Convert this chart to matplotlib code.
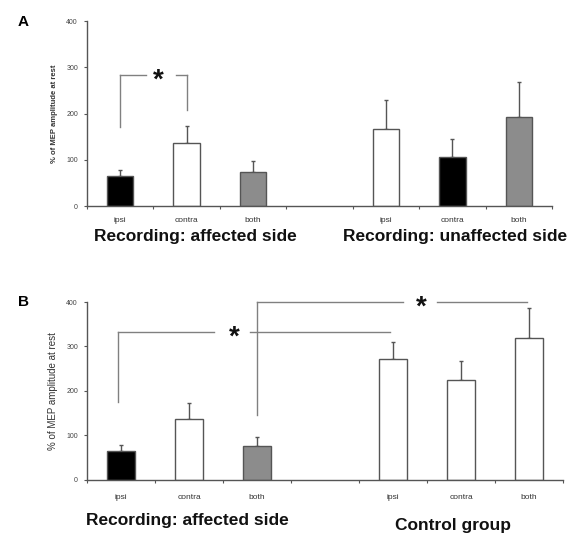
import matplotlib.pyplot as plt
from matplotlib.transforms import offset_copy

plt.rcParams['font.family'] = ['Liberation Sans', 'DejaVu Sans']

# bar data
categories = ['ipsi', 'contra', 'both']

a_affected = [65, 136, 74]
a_affected_err = [13, 37, 23]
a_unaffected = [166, 106, 192]
a_unaffected_err = [63, 39, 76]

b_affected = [66, 136, 76]
b_affected_err = [13, 37, 21]
b_control = [272, 225, 318]
b_control_err = [38, 42, 69]

# colour of each bar
a_affected_col = ['black', 'white', '#8c8c8c']
a_unaffected_col = ['white', 'black', '#8c8c8c']
b_affected_col = ['black', 'white', '#8c8c8c']
b_control_col = ['white', 'white', 'white']

edge = '#555555'
line_col = '#808080'


def draw_panel(ax, left, left_err, left_col, right, right_err, right_col, pad):
    xs_left = [0.5, 1.5, 2.5]
    xs_right = [4.5, 5.5, 6.5]
    for xs, vals, errs, cols in [(xs_left, left, left_err, left_col),
                                 (xs_right, right, right_err, right_col)]:
        ax.bar(xs, vals, width=0.4, color=cols, edgecolor=edge, linewidth=1.0,
               zorder=2)
        ax.errorbar(xs, vals, yerr=[[0] * len(errs), errs], fmt='none',
                    ecolor=edge, elinewidth=1.0, capsize=1.5, capthick=1.0,
                    zorder=1)
    ax.set_xlim(0, 7)
    ax.set_ylim(0, 400)
    ax.set_xticks(range(8))
    ax.set_xticklabels([])
    ax.set_xticks(xs_left + xs_right, categories + categories, minor=True)
    ax.tick_params(axis='x', which='minor', length=0, labelsize=6, pad=pad,
                   colors='#333333')
    ax.tick_params(axis='x', which='major', length=2.5, direction='out',
                   color=edge)
    ax.set_yticks([0, 100, 200, 300, 400])
    ax.tick_params(axis='y', length=2.5, labelsize=5, color=edge,
                   labelcolor='#444444', pad=4)
    for s in ['top', 'right']:
        ax.spines[s].set_visible(False)
    for s in ['left', 'bottom']:
        ax.spines[s].set_color(edge)
        ax.spines[s].set_linewidth(1.0)


def bracket(ax, y, x0, x1, gap0, gap1, star_x, legs):
    kw = dict(color=line_col, linewidth=1.0, clip_on=False, zorder=3)
    ax.plot([x0, gap0], [y, y], **kw)
    ax.plot([gap1, x1], [y, y], **kw)
    for lx, ly in legs:
        ax.plot([lx, lx], [ly, y], **kw)
    tr = offset_copy(ax.transData, fig=ax.figure, x=0, y=-4, units='points')
    ax.text(star_x, y, '*', ha='center', va='center', fontsize=20,
            fontweight='bold', color='#111111', transform=tr)


fig = plt.figure(figsize=(5.85, 5.39), dpi=100)

ax_a = fig.add_axes([0.1487, 0.6178, 0.7949, 0.3432])
draw_panel(ax_a, a_affected, a_affected_err, a_affected_col,
           a_unaffected, a_unaffected_err, a_unaffected_col, pad=8)
ax_a.set_ylabel('% of MEP amplitude at rest', fontsize=5.5, fontweight='bold',
                color='#333333', labelpad=6)
bracket(ax_a, 283, 0.5, 1.5, 0.89, 1.34, 1.08, [(0.5, 171), (1.5, 208)])

ax_b = fig.add_axes([0.1487, 0.1095, 0.8137, 0.3302])
draw_panel(ax_b, b_affected, b_affected_err, b_affected_col,
           b_control, b_control_err, b_control_col, pad=10)
ax_b.set_ylabel('% of MEP amplitude at rest', fontsize=7, color='#333333',
                labelpad=6)
bracket(ax_b, 333, 0.45, 4.46, 1.87, 2.4, 2.16, [(0.45, 175)])
bracket(ax_b, 400, 2.5, 6.47, 4.65, 5.15, 4.92, [(2.5, 146)])

fig.text(18 / 585, 1 - 22 / 539, 'A', fontsize=11, fontweight='bold',
         va='center', ha='left')
fig.text(18 / 585, 1 - 302 / 539, 'B', fontsize=11, fontweight='bold',
         va='center', ha='left')

big = dict(fontsize=12.5, fontweight='bold', ha='center', va='baseline',
           color='#111111')
fig.text(195 / 585, 1 - 241 / 539, 'Recording: affected side', **big)
fig.text(455 / 585, 1 - 241 / 539, 'Recording: unaffected side', **big)
fig.text(187 / 585, 1 - 525 / 539, 'Recording: affected side', **big)
fig.text(453 / 585, 1 - 530 / 539, 'Control group', **big)

fig.savefig('out.png', dpi=100)
